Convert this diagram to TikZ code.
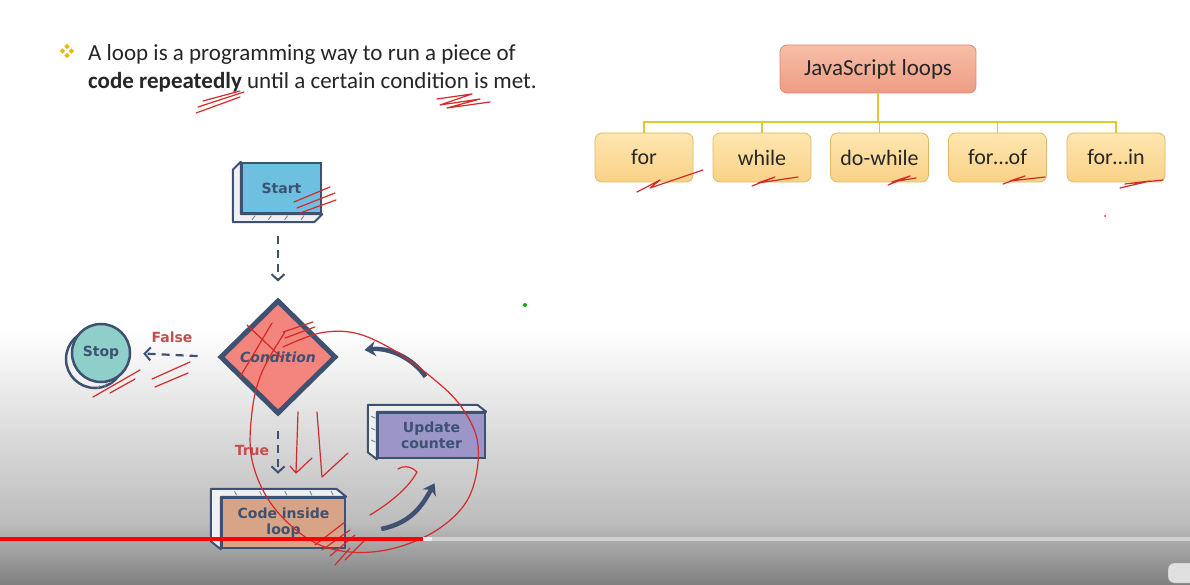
\documentclass[tikz,border=0pt]{standalone}
\usepackage{fontspec}
\setmainfont{Carlito}
\newfontfamily\fcfont{DejaVu Sans}
\usetikzlibrary{shapes.geometric,arrows.meta,calc}
\definecolor{ink}{HTML}{3E5170}
\definecolor{txt}{HTML}{262626}
\definecolor{bul}{HTML}{F0B400}
\definecolor{treeln}{HTML}{E0C832}
\definecolor{rootA}{HTML}{F7BEA8}
\definecolor{rootB}{HTML}{EE9C82}
\definecolor{rootE}{HTML}{D98D74}
\definecolor{kidA}{HTML}{FEE6B0}
\definecolor{kidB}{HTML}{F9D287}
\definecolor{kidE}{HTML}{E2B868}
\definecolor{startF}{HTML}{6DC0E0}
\definecolor{condF}{HTML}{F3857C}
\definecolor{stopF}{HTML}{8FCFCA}
\definecolor{codeF}{HTML}{D8A487}
\definecolor{updF}{HTML}{9C96C8}
\definecolor{lbl}{HTML}{C0504D}
\definecolor{pen}{HTML}{D42A2A}
\tikzset{
  rootbox/.style={rounded corners=7pt, draw=rootE, line width=0.8pt, top color=rootA, bottom color=rootB,
    minimum width=196pt, minimum height=48pt, font=\fontsize{23}{27}\selectfont, text=txt},
  kidbox/.style={rounded corners=7pt, draw=kidE, line width=0.8pt, top color=kidA, bottom color=kidB,
    minimum width=98pt, minimum height=49pt, font=\fontsize{22}{26}\selectfont, text=txt},
  treeline/.style={draw=treeln, line width=1.8pt},
  fcbox/.style={draw=ink, line width=2.5pt, inner sep=0pt, align=center, text=ink,
    font=\fcfont\bfseries\fontsize{14}{16}\selectfont},
  extr/.style={draw=ink, line width=2pt, fill=white!94!black, line join=round},
  tick/.style={draw=ink!70, line width=0.9pt},
  dasharrow/.style={draw=ink, line width=2.2pt, dash pattern=on 8pt off 6pt,
    -{Straight Barb[length=6pt,width=13pt,line width=2pt]}},
  thickarrow/.style={draw=ink, line width=4.5pt, -{Stealth[length=11pt,width=15pt]}},
  lab/.style={text=lbl, font=\fcfont\bfseries\fontsize{14}{16}\selectfont},
  scrib/.style={draw=pen, line width=1.2pt, line cap=round, line join=round},
  dia/.style={fill=bul, diamond, inner sep=0pt, minimum size=5.5pt}
}
\begin{document}
\begin{tikzpicture}[x=1pt,y=-1pt]
\useasboundingbox (0,0) rectangle (1190,585);
% background (video overlay gradient)
\fill[white] (0,0) rectangle (1190,585);
\shade[top color=white, bottom color=black!26!white] (0,330) rectangle (1190,522);
\shade[top color=black!26!white, bottom color=black!50!white] (0,522) rectangle (1190,585);

% ---- bullet text ----
\node[dia] (b1) at (67,46.5) {};
\node[dia] (b2) at (67,55.5) {};
\node[dia] (b3) at (62.5,51) {};
\node[dia] (b4) at (71.5,51) {};
\node[anchor=base west, inner sep=0pt, text=txt, font=\fontsize{23}{27}\selectfont] (l1) at (88,61)
  {A loop is a programming way to run a piece of};
\node[anchor=base west, inner sep=0pt, text=txt, font=\fontsize{23}{27}\selectfont] (l2) at (88,89)
  {\textbf{code repeatedly} until a certain condition is met.};

% ---- tree ----
\node[rootbox] (root) at (878,69) {JavaScript loops};
\node[kidbox] (k1) at (644,157.5) {for};
\node[kidbox] (k2) at (762,157.5) {while};
\node[kidbox] (k3) at (879.5,157.5) {do-while};
\node[kidbox] (k4) at (997.5,157.5) {for\ldots of};
\node[kidbox] (k5) at (1116,157.5) {for\ldots in};
\coordinate (hb) at (878,122);
\draw[treeline] (root.south) -- (hb);
\draw[treeline] (k1.north) -- (k1.north |- hb) -- (k5.north |- hb) -- (k5.north);
\foreach \k in {k2,k3,k4} \draw[treeline] (\k.north) -- (\k.north |- hb);

% ---- flowchart ----
% Start (extrusion bottom-left)
\node[fcbox, fill=startF, minimum width=79pt, minimum height=50pt] (start) at (281.5,188) {};
\draw[extr] (start.north west) -- ($(start.north west)+(-8,8)$) -- ($(start.south west)+(-8,8)$)
  -- ($(start.south east)+(-8,8)$) -- (start.south east) -- (start.south west) -- cycle;
\foreach \t in {0.2,0.4,0.6,0.8}
  \draw[tick] ($(start.south west)!\t!(start.south east)+(-2,1.5)$) -- ++(-3,4);
\node[fcbox, fill=startF, minimum width=79pt, minimum height=50pt] at (start) {Start};

% Stop (back disc bottom-left)
\node[fcbox, circle, fill=white!94!black, minimum size=58pt] (stopback) at (95,359) {};
\foreach \a in {200,215,230,245,260}
  \draw[tick] ($(stopback)+(\a:-27)$) -- ++(-2,3);
\node[fcbox, circle, fill=stopF, minimum size=58pt] (stop) at (101,353) {Stop};

% Condition
\node[fcbox, diamond, fill=condF, line width=5pt, minimum width=116pt, minimum height=114pt,
  font=\fcfont\bfseries\itshape\fontsize{14}{16}\selectfont] (cond) at (278,357) {Condition};

% Code inside loop (extrusion top-left)
\node[fcbox, fill=codeF, minimum width=123pt, minimum height=50pt] (code) at (283.5,523) {};
\draw[extr] (code.south west) -- ($(code.south west)+(-10,-8)$) -- ($(code.north west)+(-10,-8)$)
  -- ($(code.north east)+(-10,-8)$) -- (code.north east) -- (code.north west) -- cycle;
\foreach \t in {0.15,0.35,0.55,0.75,0.92}
  \draw[tick] ($(code.north west)!\t!(code.north east)+(-3,-1.5)$) -- ++(-2,-4);
\node[fcbox, fill=codeF, minimum width=123pt, minimum height=50pt] at (code) {Code inside\\loop};

% Update counter (extrusion top-left)
\node[fcbox, fill=updF, minimum width=107pt, minimum height=45pt] (upd) at (431.5,435.5) {};
\draw[extr] (upd.south west) -- ($(upd.south west)+(-9,-7)$) -- ($(upd.north west)+(-9,-7)$)
  -- ($(upd.north east)+(-9,-7)$) -- (upd.north east) -- (upd.north west) -- cycle;
\foreach \t in {0.2,0.45,0.7}
  \draw[tick] ($(upd.north west)!\t!(upd.south west)+(-1.5,-3)$) -- ++(-4,-2);
\node[fcbox, fill=updF, minimum width=107pt, minimum height=45pt] at (upd) {Update\\counter};

% connectors
\draw[dasharrow, shorten <=22pt, shorten >=16pt] (start.south -| cond.north) -- (cond.north);
\draw[dasharrow, shorten <=20pt, shorten >=12pt] (cond.west) -- (stop.east);
\node[lab] (false) at (172,337) {False};
\draw[dasharrow, shorten <=14pt, shorten >=23pt] (cond.south) -- (cond.south |- code.north);
\node[lab] (true) at (252,450) {True};
\draw[thickarrow] ($(code.east)+(35,6)$) .. controls +(30,-6) and +(-12,22) .. ($(upd.south)+(3,24)$);
\draw[thickarrow] ($(upd.north)+(-6,-35)$) .. controls +(-12,-18) and +(25,-3) .. ($(cond.east)+(26,-7)$);

% ---- red pen annotations ----
\draw[scrib] (196,113) -- (240,97) (198,107) -- (244,92) (203,101) -- (240,91);
\draw[scrib] (437,99) -- (472,94) -- (440,105) -- (480,99) -- (447,108) -- (490,102);
\draw[scrib] (637,192) -- (660,180) -- (650,188) -- (703,170);
\draw[scrib] (752,186) -- (775,177) -- (758,183) -- (798,177);
\draw[scrib] (888,185) -- (910,176) -- (892,182) -- (916,178);
\draw[scrib] (1003,184) -- (1025,176) -- (1010,181) -- (1045,177);
\draw[scrib] (1120,188) -- (1150,181) -- (1125,184) -- (1163,180);
\draw[scrib] (294,202) -- (330,187) (297,208) -- (335,193) (300,213) -- (336,200);
\draw[scrib] (93,397) -- (140,370) (110,393) -- (135,379);
\draw[scrib] (152,379) -- (190,362) (155,387) -- (188,373);
\draw[scrib] (247,325) -- (282,358) (272,323) -- (240,377) (283,332) -- (313,322) (285,338) -- (315,327);
\draw[scrib] plot[smooth, tension=0.6] coordinates {(283,347) (320,333) (355,333) (390,348) (425,372) (460,405) (478,445) (470,495) (440,528) (395,548) (350,552) (310,540) (272,505) (252,460) (252,412) (262,372) (285,332)};
\draw[scrib] (298,412) -- (296,473) -- (290,466) (296,473) -- (312,458);
\draw[scrib] (317,412) -- (322,477) -- (348,453);
\draw[scrib] (370,515) .. controls (395,500) and (410,485) .. (417,472) .. controls (410,465) and (402,466) .. (398,469);
\draw[scrib] (315,545) -- (345,522) (322,550) -- (350,530) (330,556) -- (355,535) (335,565) -- (350,548) (345,560) -- (365,540);
\fill[green!70!black] (525,305) circle (2pt);
\fill[pen] (1105,216) circle (1pt);

% ---- video progress bar ----
\fill[white!82!black] (423,537) rectangle (1190,541);
\fill[red] (0,537) rectangle (423,541);
\fill[white!92!black] (423,537) rectangle (432,541);
\draw[white!60!black, fill=white!88!black, rounded corners=6pt] (1168,563) rectangle (1200,583);
\end{tikzpicture}
\end{document}
